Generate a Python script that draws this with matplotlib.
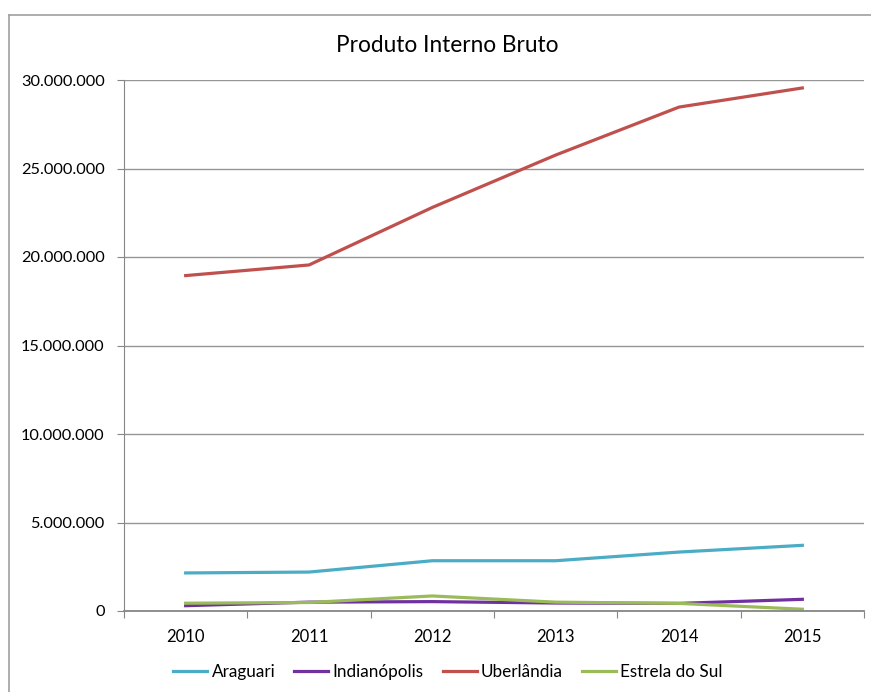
import numpy as np
import matplotlib.pyplot as plt
from matplotlib.lines import Line2D
from matplotlib.ticker import FuncFormatter

anos = ['2010', '2011', '2012', '2013', '2014', '2015']
araguari = [2150000, 2200000, 2840000, 2840000, 3330000, 3710000]
indianopolis = [300000, 500000, 530000, 450000, 430000, 660000]
uberlandia = [18950000, 19550000, 22800000, 25760000, 28470000, 29550000]
estrela_do_sul = [440000, 480000, 850000, 500000, 430000, 100000]

plt.rcParams['font.family'] = ['Lato', 'DejaVu Sans']

fig = plt.figure(figsize=(8.71, 6.92), dpi=100)
ax = fig.add_axes([124/871, 1-611/692, (864-124)/871, (611-80)/692])

x = np.arange(len(anos))
ax.plot(x, araguari, c='#4BACC6', lw=2.3, label='Araguari')
ax.plot(x, indianopolis, c='#7030A0', lw=2.3, label='Indianópolis')
ax.plot(x, uberlandia, c='#C0504D', lw=2.3, label='Uberlândia')
ax.plot(x, estrela_do_sul, c='#9BBB59', lw=2.3, label='Estrela do Sul')

ax.set_xlim(-0.5, 5.5)
ax.set_ylim(0, 30000000)
ax.set_yticks(np.arange(0, 30000001, 5000000))
ax.yaxis.set_major_formatter(FuncFormatter(lambda v, p: '{:,.0f}'.format(v).replace(',', '.')))
ax.set_xticks(np.arange(-0.5, 6, 1))
ax.set_xticklabels([])
ax.set_xticks(x, minor=True)
ax.set_xticklabels(anos, minor=True)
ax.tick_params(axis='x', which='major', length=5, color='#868686', direction='out')
ax.tick_params(axis='x', which='minor', length=0, pad=13, labelsize=12)
ax.tick_params(axis='y', length=5, color='#868686', pad=9, labelsize=11.8)
ax.grid(axis='y', color='#969696', lw=1)
ax.set_axisbelow(True)
for s in ['top', 'right']:
    ax.spines[s].set_visible(False)
ax.spines['left'].set_color('#868686')
ax.spines['bottom'].set_color('#868686')
ax.spines['bottom'].set_linewidth(1.3)

fig.text(447/871, 1-45/692, 'Produto Interno Bruto', ha='center', va='center', fontsize=16.3)
fig.legend(loc='center', bbox_to_anchor=(448/871, 1-672/692), ncol=4, frameon=False,
           fontsize=12.3, handlelength=2.0, handletextpad=0.25, columnspacing=1.1)

# moldura do grafico
fig.add_artist(Line2D([9/871, 9/871], [0, 1-15/692], color='#a0a0a0', lw=1.2))
fig.add_artist(Line2D([9/871, 1], [1-15/692, 1-15/692], color='#a0a0a0', lw=1.2))

plt.savefig('out.png', dpi=100)
